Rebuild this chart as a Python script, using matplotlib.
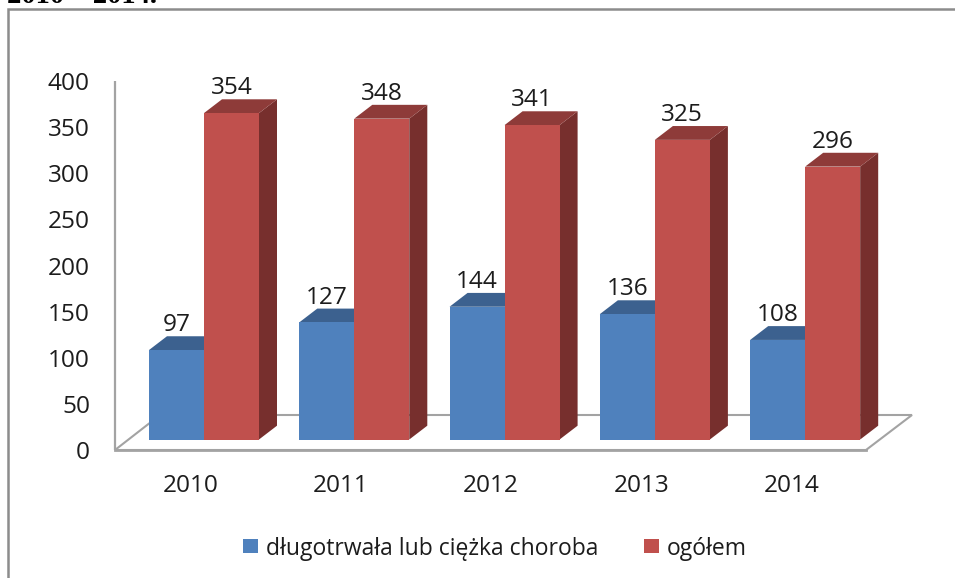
import matplotlib
matplotlib.use('Agg')
import matplotlib.pyplot as plt
from matplotlib.patches import Polygon, Rectangle

plt.rcParams['font.family'] = 'Open Sans'

years = ['2010', '2011', '2012', '2013', '2014']
choroba = [97, 127, 144, 136, 108]
ogolem = [354, 348, 341, 325, 296]
y_ticks = [0, 50, 100, 150, 200, 250, 300, 350, 400]
legend_names = ['długotrwała lub ciężka choroba', 'ogółem']

W, H = 955, 578
bar_w = 0.366
dx = 0.12   # depth of the 3d look, category units
dy = 15.0   # depth, value units
txt = '#1c1c1c'

fig = plt.figure(figsize=(W / 100, H / 100), dpi=100)
ax = fig.add_axes([0, 0, 1, 1])
ax.set_xlim(-1.357, 4.997)
ax.set_ylim(-150.2, 476.7)
ax.axis('off')

def px(x, y):
    # pixel position of the picture -> data position
    return ax.transData.inverted().transform(fig.dpi_scale_trans.transform((x / 100, (H - y) / 100)))

def box(x0, val, front, top, side):
    x1 = x0 + bar_w
    ax.add_patch(Polygon([(x1, 0), (x1 + dx, dy), (x1 + dx, val + dy), (x1, val)], fc=side, ec='none', zorder=3))
    ax.add_patch(Polygon([(x0, val), (x0 + dx, val + dy), (x1 + dx, val + dy), (x1, val)], fc=top, ec='none', zorder=3))
    ax.add_patch(Rectangle((x0, 0), bar_w, val, fc=front, ec='none', zorder=3))

# floor and wall lines
grey = '#a3a3a3'
floor = [px(115, 450), px(866, 450), px(912, 415), px(160, 415)]
ax.add_patch(Polygon(floor, closed=True, fc='white', ec=grey, lw=1.5, zorder=1))
ax.plot(*zip(px(115, 81), px(115, 450)), color=grey, lw=1.6, zorder=2, solid_capstyle='butt')
ax.plot(*zip(px(115, 450), px(866, 450)), color=grey, lw=2.0, zorder=2)

for i in range(len(years)):
    box(i - bar_w, choroba[i], '#4f81bd', '#3c618f', '#3c618f')
    box(i, ogolem[i], '#c0504d', '#8e3b39', '#772f2d')
    ax.text(i - bar_w / 2, choroba[i] + dy - 1, str(choroba[i]), ha='center', va='bottom',
            fontsize=17.6, color=txt, zorder=4)
    ax.text(i + bar_w / 2, ogolem[i] + dy - 1, str(ogolem[i]), ha='center', va='bottom',
            fontsize=17.6, color=txt, zorder=4)
    ax.text(i - 0.09, px(0, 483)[1], years[i], ha='center', va='center_baseline', fontsize=17.6, color=txt)

for t in y_ticks:
    x, y = px(90, 450 - t * 0.922)
    ax.text(x, y, str(t), ha='right', va='center_baseline', fontsize=17.6, color=txt)

# legend
cols = ['#4f81bd', '#c0504d']
for name, col, sx, tx in zip(legend_names, cols, [243, 644], [266, 667]):
    p = px(sx, 553)
    ax.add_patch(Rectangle(p, *(px(sx + 15, 553 - 14) - p), fc=col, ec='none'))
    ax.text(*px(tx, 546), name, ha='left', va='center_baseline', fontsize=16.5, color=txt)

# frame of the chart and clipped line of the page above it
ax.plot(*zip(px(8, 578), px(8, 9), px(955, 9)), color='#8c8c8c', lw=1.8, solid_joinstyle='miter')
ax.text(*px(7, 3), '2010 – 2014.', ha='left', va='baseline', fontsize=20.5, family='Liberation Serif',
        fontweight='bold', color='black')

fig.savefig('out.png', dpi=100)
